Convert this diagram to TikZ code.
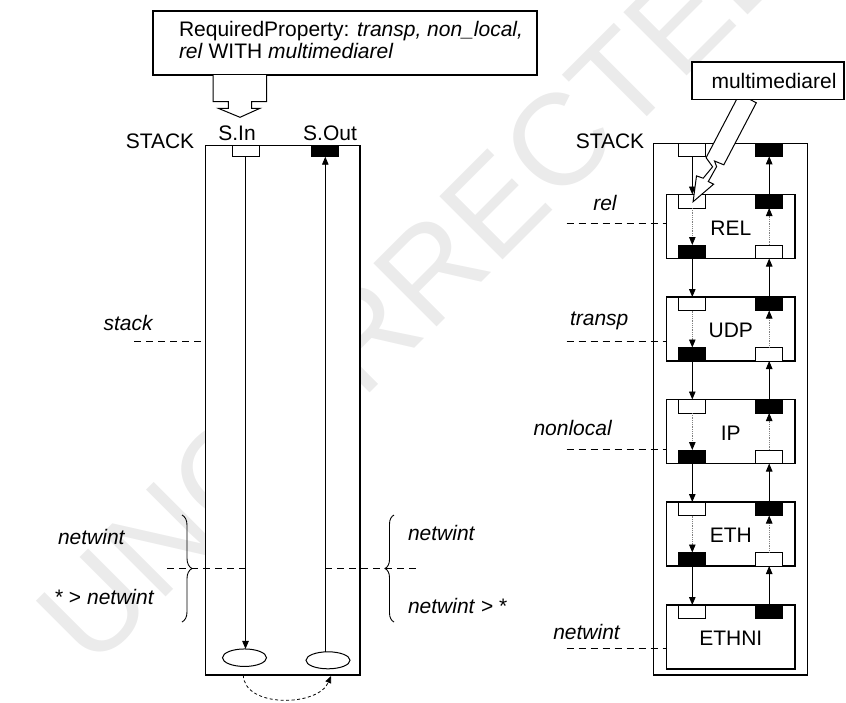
\documentclass[tikz,border=0pt]{standalone}
\usepackage{fontspec}
\setmainfont{Liberation Sans}
\usetikzlibrary{arrows.meta,decorations.pathreplacing,shapes.geometric}

\begin{document}
\begin{tikzpicture}[x=1pt,y=-1pt,
  every node/.style={font=\fontsize{21}{25}\selectfont, inner sep=0pt, outer sep=0pt},
  frame/.style={draw, line width=1.1pt, fill=white, anchor=north west},
  wport/.style={draw, line width=1pt, fill=white, minimum width=27pt, minimum height=#1},
  wport/.default=13.5pt,
  bport/.style={wport=#1, fill=black},
  bport/.default=13.5pt,
  flow/.style={line width=0.9pt, -{Triangle[length=8pt,width=6.5pt]}},
  dflow/.style={line width=0.8pt, draw=gray, densely dotted, -{Triangle[length=8pt,width=6.5pt,color=black]}},
  guide/.style={line width=1pt, dash pattern=on 7pt off 5pt},
  curv/.style={line width=0.8pt, dash pattern=on 3pt off 2.5pt, -{Triangle[length=7pt,width=6pt]}},
  lbl/.style={anchor=west, font=\fontsize{21}{25}\selectfont\itshape},
  plain/.style={anchor=west, font=\fontsize{21}{25}\selectfont},
  brc/.style={line width=0.9pt, decorate, decoration={brace, amplitude=#1}},
]
\useasboundingbox (0,0) rectangle (846,702);

% proof watermark behind everything
\node[text=black!8, rotate=45, font=\fontsize{130}{130}\selectfont] (wm) at (418,282) {UNCORRECTED};

% ---------- left: the stack seen from outside ----------
\node[frame, minimum width=384pt, minimum height=64pt] (req) at (153,11) {};
\node[anchor=base west] (reqA) at (179,36) {RequiredProperty: \textit{transp, non\_local,}};
\node[anchor=base west] (reqB) at (179,58) {\textit{rel} WITH \textit{multimediarel}};

% block arrow from the requirement box into S.In
\draw[line width=1pt, fill=white] (213,75) -- (213,101.7) -- (228.3,101.7) -- (228.3,108.3)
  -- (218.3,108.3) -- (240,117.3) -- (260,108.3) -- (251.7,108.3) -- (251.7,101.7)
  -- (266.7,101.7) -- (266.7,75);

\node (sinlab) at (237,133) {S.In};
\node (soutlab) at (330,133) {S.Out};
\node (stackL) at (160,141.5) {STACK};

\node[frame, minimum width=154.3pt, minimum height=529.3pt] (lbox) at (205.7,145.7) {};
\node[wport=11pt, anchor=north] (sin) at (245.5,145.7) {};
\node[bport=11pt, anchor=north] (sout) at (325.3,145.7) {};
\node[draw, ellipse, line width=1pt, minimum width=44pt, minimum height=17.5pt] (e1) at (244.5,657.7) {};
\node[draw, ellipse, line width=1pt, minimum width=44pt, minimum height=17pt] (e2) at (328,660.3) {};
\draw[flow] (sin.south) -- (sin.south |- e1.north);
\draw[flow] (sout.south |- e2.north) -- (sout.south);

% loop-back below the stack
\coordinate (cs) at (243.3,675);
\coordinate (ce) at (331,676);
\draw[curv] (cs) .. controls (244,708) and (318,707) .. (ce);

% level marks on the left stack
\coordinate (stk) at (134,341);
\draw[guide] (stk) -- (stk -| lbox.west);
\node[lbl] (stacklab) at (103.6,323) {stack};

\coordinate (nwL) at (167,568);
\draw[guide] (nwL) -- (nwL -| sin.south);
\coordinate (nwR) at (420,568);
\draw[guide] (nwR -| sout.south) -- (nwR);

\coordinate (bl1) at (182,515);
\coordinate (bl2) at (182,622);
\draw[brc=10pt] (bl1) -- (bl2);
\coordinate (br1) at (394,622);
\coordinate (br2) at (394,515);
\draw[brc=9pt] (br1) -- (br2);

\node[lbl] (nwa) at (58,537) {netwint};
\node[plain] (nwb) at (55,597) {* > \textit{netwint}};
\node[lbl] (nwc) at (408,533) {netwint};
\node[plain] (nwd) at (408,606) {\textit{netwint} > *};

% ---------- right: the stack seen from inside ----------
\node (stackR) at (610,141.7) {STACK};
\node[frame, minimum width=154pt, minimum height=531.7pt] (rbox) at (653.3,143.3) {};
\node[wport=13pt, anchor=north] (oin) at (692.3,143.3) {};
\node[bport=13pt, anchor=north] (oout) at (769.2,143.3) {};

\foreach \n/\t/\lab in {1/194.5/REL,2/297/UDP,3/399.5/IP,4/502/ETH,5/605/ETHNI}{
  \node[frame, minimum width=128.3pt, minimum height=64pt] (l\n) at (666.7,\t) {};
  \node (l\n-name) at (730.8,\t+33.5) {\lab};
  \node[wport, anchor=north] (l\n-in) at (692.3,\t) {};
  \node[bport, anchor=north] (l\n-out) at (769.2,\t) {};
}
\foreach \n/\t in {1/194.5,2/297,3/399.5,4/502}{
  \node[bport, anchor=south] (l\n-dn) at (692.3,\t+64) {};
  \node[wport, anchor=south] (l\n-up) at (769.2,\t+64) {};
  \draw[dflow] (l\n-in) -- (l\n-dn);
  \draw[dflow] (l\n-up) -- (l\n-out);
}
\foreach \n/\m in {1/2,2/3,3/4,4/5}{
  \draw[flow] (l\n-dn) -- (l\m-in);
  \draw[flow] (l\m-out) -- (l\n-up);
}
\draw[flow] (oin) -- (l1-in);
\draw[flow] (l1-out) -- (oout);

% level marks on the right stack
\foreach \k/\y/\tx/\ty/\txt in {1/223.3/593.3/203/rel,2/341/570/320.5/transp,
    3/449.3/533.5/427.5/nonlocal,4/648.5/553.3/631.5/netwint}{
  \coordinate (g\k) at (566.7,\y);
  \draw[guide] (g\k) -- (g\k -| l1.west);
  \node[lbl] (t\k) at (\tx,\ty) {\txt};
}

% lightning arrow from the multimediarel box into REL
\draw[line width=1pt, fill=white, line join=miter] (741.8,89.5) -- (706.1,157.7) -- (712.6,166.8)
  -- (703.2,178.2) -- (696.5,175.9) -- (693.1,201.7) -- (713.6,184.2) -- (708.3,181.5)
  -- (716.6,166.6) -- (714.5,161) -- (723.8,164.8) -- (756.3,102.8) -- (738.6,93.5) -- cycle;
\node[frame, minimum width=152pt, minimum height=37.3pt] (mm) at (692,62) {};
\node (mmtxt) at (774,81) {multimediarel};
\end{tikzpicture}
\end{document}
